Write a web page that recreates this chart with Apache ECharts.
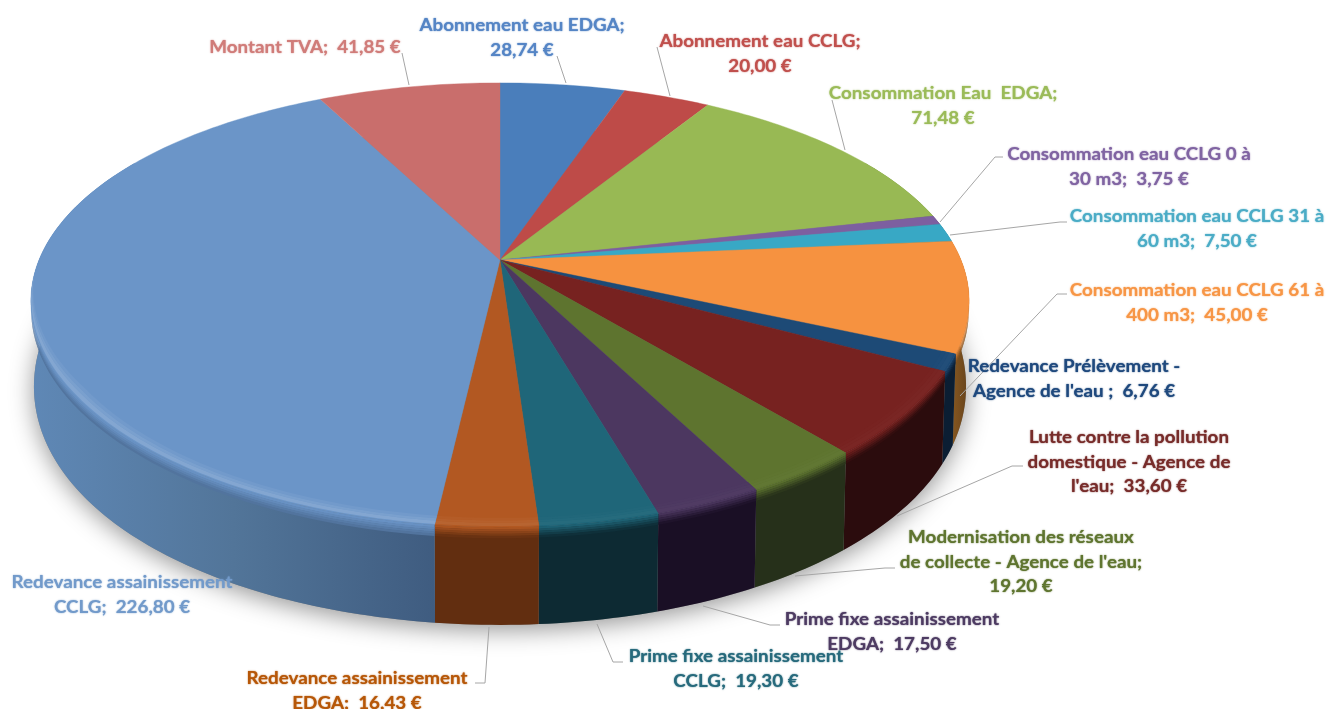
<!DOCTYPE html>
<html><head><meta charset="utf-8">
<style>html,body{margin:0;padding:0;background:#fff}#c{width:1327px;height:709px}</style>
<script src="https://cdn.jsdelivr.net/npm/echarts@6/dist/echarts.min.js"></script>
</head><body><div id="c"></div>
<script>
// ---- data ----
var values = [28.74,20.00,71.48,3.75,7.50,45.00,6.76,33.60,19.20,17.50,19.30,16.43,226.80,41.85];
var labelHeads = [
 ['Abonnement eau EDGA;',''],
 ['Abonnement eau CCLG;',''],
 ['Consommation Eau  EDGA;',''],
 ['Consommation eau CCLG 0 à','30 m3;  '],
 ['Consommation eau CCLG 31 à','60 m3;  '],
 ['Consommation eau CCLG 61 à','400 m3;  '],
 ['Redevance Prélèvement -',"Agence de l'eau ;  "],
 ['Lutte contre la pollution','domestique - Agence de',"l'eau;  "],
 ['Modernisation des réseaux',"de collecte - Agence de l'eau;",''],
 ['Prime fixe assainissement','EDGA;  '],
 ['Prime fixe assainissement','CCLG;  '],
 ['Redevance assainissement','EDGA;  '],
 ['Redevance assainissement','CCLG;  '],
 ['Montant TVA;  ']
];
// ---- styles / layout ----
var topColors  = ['#4a7ebb','#be4b48','#98b954','#7d5fa0','#38a8c5','#f69240','#1d4a76','#772220','#5e742f','#4c3760','#1f6679','#b25822','#6b95c8','#c96e6c'];
var sideColors = ['#2c4a70','#702c2a','#5a6e32','#4a3860','#21637a','#7f4f1f','#0b1e33','#2b0c0d','#26301a','#1a0f25','#0d2a33','#622e10','#4f7099','#773f3e'];
var textColors = ['#5585c5','#c0504d','#9bbb59','#8064a2','#4bacc6','#f79646','#1f497d','#772c2a','#5f7530','#4d3b62','#276a7c','#b65708','#729aca','#d07c79'];
var bevelWhite = [0,0,0,0,0,0,.02,.02,.02,.02,.03,.07,.16,0];
var labelX = [522,760,943,1129,1197,1197,1074,1129,1021,892,736,357,122,305];
var labelY = [26,42,94,155,217,291,367,438,538,620,657,679,583,48];
var lineH = 24.5;
var leaders = [
 [[557,56],[566,83]],
 [[657,47],[670,96]],
 [[832,100],[845,150]],
 [[1003,157],[995,157],[940,222]],
 [[1067,222],[1060,222],[950,235]],
 [[1067,294],[1057,294],[960,396]],
 [],
 [[1023,466],[1012,466],[897,516]],
 [[895,568],[885,568],[795,576]],
 [[780,625],[770,625],[703,606]],
 [[623,662],[613,662],[597,624]],
 [[475,683],[485,683],[489,627]],
 [],
 [[402,53],[409,85]]
];
var cx = 500, cyTop = 260, RTop = 461, HTop = 213, kTop = 0.2027, kX = 0.185;
var cyBot = 340, RBot = 458, HBot = 245, kBot = 0.14;
var FONT = '700 16.5px Lato, "Open Sans", sans-serif';
var TEXT_STRETCH = 1.14;

// ---- geometry ----
var total = values.reduce(function(a,b){return a+b;},0);
var starts = []; (function(){var c=0; values.forEach(function(v){starts.push(c/total*360); c+=v;});})();
function rad(d){return d*Math.PI/180;}
function topPt(th,r){ r=r==null?1:r; var u=r*Math.sin(rad(th)),v=r*Math.cos(rad(th)); return [cx+RTop*u/(1+kX*v), cyTop-HTop*v/(1+kTop*v)]; }
function botPt(th){ var u=Math.sin(rad(th)),v=Math.cos(rad(th)); return [cx+RBot*u/(1+kX*v), cyBot-HBot*v/(1+kBot*v)]; }
function sidePt(th,t){ var a=topPt(th),b=botPt(th); return [a[0]+(b[0]-a[0])*t, a[1]+(b[1]-a[1])*t]; }
function arc(a,b,fn){ var n=Math.max(2,Math.ceil(Math.abs(b-a))),out=[]; for(var i=0;i<=n;i++){out.push(fn(a+(b-a)*i/n));} return out; }
function fmt(v){ return v.toFixed(2).replace('.',',')+' €'; }
function sideStrip(a,b,t0,t1,fill){
  var up=arc(a,b,function(x){return sidePt(x,t0);}), dn=arc(b,a,function(x){return sidePt(x,t1);});
  return {type:'polygon',shape:{points:up.concat(dn)},style:{fill:fill,stroke:null}};
}
var BEVEL_END = 266;
function taper(th){ return Math.min(1,(BEVEL_END-th)/30); }
function ring(a,b,r0,r1,fill){
  var o=arc(a,b,function(x){ return topPt(x,1-(1-r1)*taper(x));}), i=arc(b,a,function(x){ return topPt(x,1-(1-r0)*taper(x));});
  return {type:'polygon',shape:{points:o.concat(i)},style:{fill:fill,stroke:null}};
}
function renderShadow(p,api){
  if(p.dataIndex!==0) return;
  return {type:'polygon',shape:{points:arc(0,360,botPt)},style:{fill:'#888',shadowColor:'rgba(0,0,0,.42)',shadowBlur:24,shadowOffsetY:5,shadowOffsetX:0}};
}
function renderSide(p,api){
  var i=p.dataIndex, a=Math.max(starts[i],60), b=Math.min(starts[i]+api.value(0)/total*360,300);
  if(b<=a) return;
  var kids=[], side=sideColors[i];
  var fill=side;
  if(i===12){ fill=new echarts.graphic.LinearGradient(30,0,436,0,[{offset:0,color:'#5f88b6'},{offset:.5,color:'#527599'},{offset:1,color:'#3f5c80'}],true); }
  if(i===5){ fill=new echarts.graphic.LinearGradient(950,0,972,0,[{offset:0,color:'#8a5a20'},{offset:1,color:'#5f3e1c'}],true); }
  kids.push(sideStrip(a,b,0,1,fill));
  var n=5, base=i===12?'#4f7099':side;
  for(var s=0;s<n;s++){
    kids.push(sideStrip(a,b,s*.022,(s+1)*.022+.004,echarts.color.lerp((s+.5)/n,[topColors[i],base])));
  }
  return {type:'group',children:kids};
}
function renderTop(p,api){
  var i=p.dataIndex, a=starts[i], b=a+api.value(0)/total*360;
  var pts=[[cx,cyTop]].concat(arc(a,b,function(x){return topPt(x);}));
  var kids=[{type:'polygon',shape:{points:pts},style:{fill:topColors[i],stroke:topColors[i],lineWidth:.4}}];
  var w=bevelWhite[i];
  if(w>0){
    var e=Math.min(b,BEVEL_END);
    if(e>a){
      var c1=echarts.color.lerp(w,[topColors[i],'#ffffff']);
      var c2=echarts.color.lerp(w*.65,[topColors[i],'#ffffff']);
      var c3=echarts.color.lerp(w*.3,[topColors[i],'#ffffff']);
      kids.push(ring(a,e,.972,.98,c3));
      kids.push(ring(a,e,.98,.987,c2));
      kids.push(ring(a,e,.987,.997,c1));
    }
  }
  return {type:'group',children:kids};
}
function renderLabels(p,api){
  var i=p.dataIndex, heads=labelHeads[i], kids=[];
  heads.forEach(function(h,j){
    var t=j===heads.length-1 ? h+fmt(api.value(0)) : h;
    kids.push({type:'text',x:labelX[i],y:labelY[i]+j*lineH,scaleX:TEXT_STRETCH,
      style:{text:t,x:0,y:0,align:'center',verticalAlign:'middle',font:FONT,fill:textColors[i],textShadowColor:textColors[i],textShadowBlur:1.5}});
  });
  return {type:'group',children:kids};
}
function renderLeaders(p,api){
  var pts=leaders[p.dataIndex];
  if(!pts.length) return;
  return {type:'polyline',shape:{points:pts},style:{stroke:'#a6a6a6',lineWidth:1,fill:null}};
}
var chart=echarts.init(document.getElementById('c'),null,{renderer:'canvas'});
function ser(fn,z,name){ return {type:'custom',name:name,coordinateSystem:'none',renderItem:fn,data:values.map(function(v){return [v];}),z:z,silent:true,animation:false,clip:false}; }
chart.setOption({
  backgroundColor:'#fff',animation:false,
  series:[ser(renderShadow,1,'shadow'),ser(renderSide,2,'side'),ser(renderTop,3,'top'),ser(renderLeaders,4,'leaders'),ser(renderLabels,5,'labels')]
});
</script></body></html>
